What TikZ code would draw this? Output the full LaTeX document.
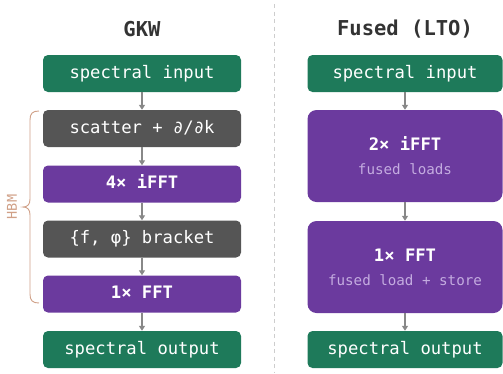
\documentclass[tikz,border=0pt]{standalone}
\usepackage{fontspec}
\setmonofont{DejaVu Sans Mono}
\usetikzlibrary{arrows.meta}

\definecolor{specgreen}{RGB}{30,122,90}
\definecolor{fftpurple}{RGB}{107,58,158}
\definecolor{opgray}{RGB}{85,85,85}
\definecolor{hbmtan}{RGB}{208,160,135}
\definecolor{subtxt}{RGB}{196,172,224}
\definecolor{arrowgray}{RGB}{136,136,136}
\definecolor{titlegray}{RGB}{51,51,51}
\definecolor{sepgray}{RGB}{205,205,205}

\begin{document}
\begin{tikzpicture}[x=1pt,y=-1pt,
  box/.style={rounded corners=5pt, minimum height=37pt, inner sep=0pt,
    text=white, text height=12pt, text depth=3pt,
    font=\ttfamily\fontsize{17.2}{20}\selectfont},
  lbox/.style={box, minimum width=198pt},
  rbox/.style={box, minimum width=195pt},
  tallbox/.style={rbox, rounded corners=9pt, minimum height=92pt, fill=fftpurple},
  io/.style={fill=specgreen},
  op/.style={fill=opgray},
  fft/.style={fill=fftpurple, font=\ttfamily\bfseries\fontsize{17.2}{20}\selectfont},
  title/.style={text=titlegray, font=\ttfamily\bfseries\fontsize{20.5}{24}\selectfont},
  sub/.style={text=subtxt, font=\ttfamily\fontsize{14.2}{17}\selectfont},
  headtxt/.style={text=white, font=\ttfamily\bfseries\fontsize{17.2}{20}\selectfont},
  arr/.style={draw=arrowgray, line width=1.3pt, -{Triangle[width=6pt,length=5pt]}}]

\useasboundingbox (0,0) rectangle (503,373);

% column separator
\draw[sepgray, line width=1pt, dash pattern=on 4pt off 3.5pt] (274,4) -- (274,373);

% titles
\node[title] (tl) at (142,29) {GKW};
\node[title] (tr) at (405,29) {Fused (LTO)};

% GKW pipeline
\node[lbox, io]  (lin)  at (142,73.5) {spectral input};
\node[lbox, op]  (lsc)  at (142,128.5) {scatter + ∂/∂k};
\node[lbox, fft] (lifft) at (142,184) {4× iFFT};
\node[lbox, op]  (lbr)  at (142,239) {\{f, φ\} bracket};
\node[lbox, fft] (lfft) at (142,294) {1× FFT};
\node[lbox, io]  (lout) at (142,349.5) {spectral output};

\draw[arr] (lin.south) -- (lsc.north);
\draw[arr] (lsc.south) -- (lifft.north);
\draw[arr] (lifft.south) -- (lbr.north);
\draw[arr] (lbr.south) -- (lfft.north);
\draw[arr] (lfft.south) -- (lout.north);

% HBM brace
\draw[hbmtan, line width=0.9pt]
  (39,111) .. controls (32.5,111) and (30,113.5) .. (30,120) -- (30,199)
  .. controls (30,204.5) and (27.5,207) .. (23,207)
  .. controls (27.5,207) and (30,209.5) .. (30,215) -- (30,294)
  .. controls (30,300.5) and (32.5,303) .. (39,303);
\node[rotate=90, text=hbmtan, font=\ttfamily\fontsize{13.5}{16}\selectfont] (hbm) at (12,207) {HBM};

% fused pipeline
\node[rbox, io] (rin) at (405,73.5) {spectral input};
\node[tallbox]  (rifft) at (405,156) {};
\node[headtxt] (rifftt) at (405,144) {2× iFFT};
\node[sub]     (rifftd) at (405,169) {fused loads};
\node[tallbox]  (rfft) at (405,267) {};
\node[headtxt] (rfftt) at (405,255) {1× FFT};
\node[sub]     (rfftd) at (405,280) {fused load + store};
\node[rbox, io] (rout) at (405,349.5) {spectral output};

\draw[arr] (rin.south) -- (rifft.north);
\draw[arr] (rifft.south) -- (rfft.north);
\draw[arr] (rfft.south) -- (rout.north);
\end{tikzpicture}
\end{document}
